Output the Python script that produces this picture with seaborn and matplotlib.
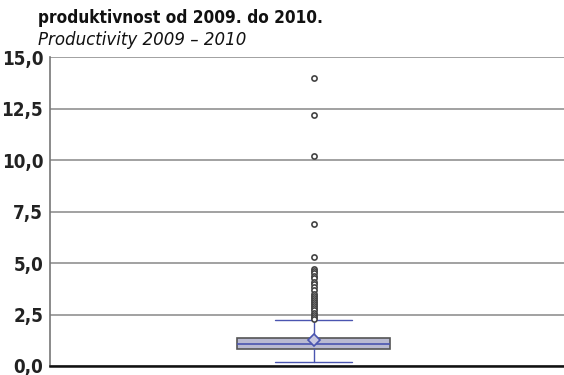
import matplotlib
matplotlib.use("Agg")
import matplotlib.pyplot as plt
import seaborn as sns
import numpy as np

# ---- data ----
title_hr = "produktivnost od 2009. do 2010."
title_en = "Productivity 2009 – 2010"
y_ticks = [0.0, 2.5, 5.0, 7.5, 10.0, 12.5, 15.0]
y_tick_labels = ["0,0", "2,5", "5,0", "7,5", "10,0", "12,5", "15,0"]

q1 = 0.83
median = 1.07
q3 = 1.36
mean = 1.26
whisker_low = 0.21
whisker_high = 2.23
outliers = [14.0, 12.2, 10.2, 6.9, 5.3, 4.7, 4.6, 4.5, 4.4, 4.3, 4.1, 4.0,
            3.85, 3.7, 3.5, 3.4, 3.3, 3.2, 3.1, 3.0, 2.9, 2.8, 2.7, 2.6,
            2.5, 2.4, 2.3]

sns.set_theme(style="white")
plt.rcParams['font.family'] = ['DejaVu Sans']
plt.rcParams['font.stretch'] = 'condensed'

fig = plt.figure(figsize=(5.64, 3.75), dpi=100)
ax = fig.add_axes([0.0887, 0.024, 0.911, 0.8227])

stats = [dict(med=median, q1=q1, q3=q3, whislo=whisker_low, whishi=whisker_high,
              mean=mean, fliers=[])]
blue = "#4a55b0"
ax.bxp(stats, positions=[0], widths=0.6, patch_artist=True, showmeans=True,
       showfliers=False, capwidths=0.3,
       boxprops=dict(facecolor="#b9bad2", edgecolor="#555555", linewidth=1.2),
       medianprops=dict(color=blue, linewidth=1.2),
       whiskerprops=dict(color=blue, linewidth=1.0),
       capprops=dict(color=blue, linewidth=1.0),
       meanprops=dict(marker="D", markerfacecolor="#c8c8e0", markeredgecolor=blue,
                      markersize=6, markeredgewidth=1.2))

sns.scatterplot(x=np.zeros(len(outliers)), y=outliers, ax=ax, marker="o",
                s=14, facecolor="white", edgecolor="#444444", linewidth=1.2,
                zorder=5, legend=False)

ax.set_xlim(-1.034, 0.982)
ax.set_ylim(0, 15)
ax.set_yticks(y_ticks)
ax.set_yticklabels(y_tick_labels, fontsize=13.5, fontweight="bold",
                   fontstretch="condensed", color="#222222")
ax.set_xticks([])
ax.tick_params(axis="y", length=0, pad=5)
ax.grid(axis="y", color="#9a9a9a", linewidth=1.3)
ax.set_axisbelow(True)
for s in ["top", "right"]:
    ax.spines[s].set_visible(False)
ax.spines["left"].set_color("#777777")
ax.spines["left"].set_linewidth(1.2)
ax.spines["bottom"].set_color("#111111")
ax.spines["bottom"].set_linewidth(1.8)

fig.text(38/564, 1 - 18/375, title_hr, fontsize=12.3, fontweight="bold",
         fontstretch="condensed", va="center", ha="left", color="#111111")
fig.text(38/564, 1 - 40/375, title_en, fontsize=13.3, fontstyle="italic",
         fontstretch="condensed", va="center", ha="left", color="#111111")

fig.savefig("out.png", dpi=100)
